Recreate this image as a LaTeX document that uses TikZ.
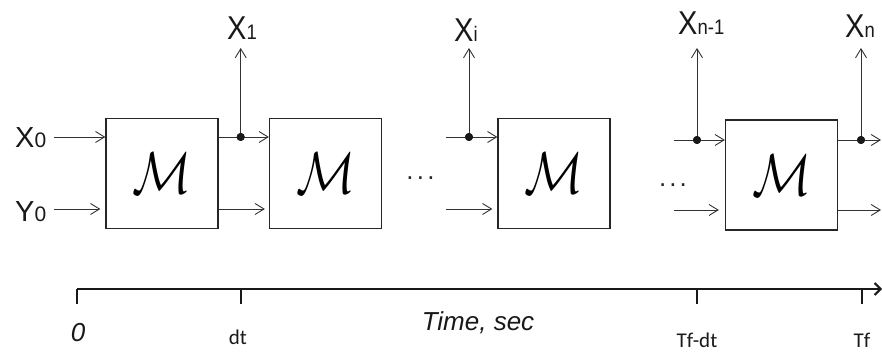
\documentclass[tikz,border=0pt]{standalone}
\usepackage{fontspec}
\setmainfont{Liberation Sans}
\newfontfamily\calibrifont{Carlito}
\usetikzlibrary{arrows.meta}
\tikzset{
  blk/.style={draw=black!85,line width=1.3pt,minimum width=112pt,minimum height=110pt,inner sep=0pt},
  arr/.style={draw=black!80,line width=0.9pt,-{Straight Barb[length=9pt,width=11pt,line width=0.9pt]}},
  jdot/.style={circle,fill=black!90,inner sep=0pt,minimum size=8pt},
  xlab/.style={font=\fontsize{29}{29}\selectfont,inner sep=0pt,anchor=base west,text=black!90},
  toplab/.style={inner sep=0pt,anchor=base west,text=black!90},
  ticklab/.style={font=\calibrifont\fontsize{21}{21}\selectfont,inner sep=0pt,text=black!90},
  axislab/.style={font=\itshape\fontsize{26}{26}\selectfont,inner sep=0pt,text=black!90},
  ell/.style={font=\fontsize{26}{26}\selectfont,inner sep=0pt,anchor=base,text=black!85},
  axis/.style={draw=black!90,line width=2.4pt},
  tick/.style={draw=black!90,line width=2pt}
}
\newcommand{\sm}[1]{{\fontsize{21}{21}\selectfont #1}}
\newcommand{\toptext}[1]{\scalebox{0.88}[1]{\fontsize{33}{33}\selectfont X\sm{#1}}}
\newcommand{\bigM}{\scalebox{4.9}[5.9]{$\mathcal{M}$}}
\begin{document}
\begin{tikzpicture}[x=1pt,y=1pt]
\useasboundingbox (0,0) rectangle (882,352);
% blocks
\node[blk] (b1) at (162,178.5) {\bigM};
\node[blk] (b2) at (325.5,178.5) {\bigM};
\node[blk] (b3) at (554,178.5) {\bigM};
\node[blk] (b4) at (781.5,177) {\bigM};
% free-end coordinates
\coordinate (x0s) at (54,215);
\coordinate (y0s) at (54,143);
\coordinate (x3s) at (446,215);
\coordinate (y3s) at (446,143);
\coordinate (x4s) at (674,212);
\coordinate (y4s) at (674,142);
\coordinate (x4e) at (881,212);
\coordinate (y4e) at (881,142);
\coordinate (top) at (0,304);
% junction dots
\node[jdot] (d1) at (240.7,215) {};
\node[jdot] (d3) at (469,215) {};
\node[jdot] (d4) at (697,212) {};
\node[jdot] (d5) at (861,212) {};
% labels
\node[xlab] (lx0) at (15,204) {X\sm{0}};
\node[xlab] (ly0) at (15,130) {Y\sm{0}};
\node[toplab] (lx1) at (227,312) {\toptext{1}};
\node[toplab] (lxi) at (454,310) {\toptext{i}};
\node[toplab] (lxn1) at (678,317) {\toptext{n-1}};
\node[toplab] (lxn) at (845,314) {\toptext{n}};
% inputs
\draw[arr] (x0s) -- (b1.west |- x0s);
\draw[arr,shorten >=5pt] (y0s) -- (b1.west |- y0s);
% block 1 -> block 2
\draw[arr] (b1.east |- x0s) -- (b2.west |- x0s);
\draw[arr,shorten >=4pt] (b1.east |- y0s) -- (b2.west |- y0s);
\draw[arr] (d1.center) -- (d1 |- top);
% block 3 inputs
\draw[arr] (x3s) -- (b3.west |- x3s);
\draw[arr,shorten >=5pt] (y3s) -- (b3.west |- y3s);
\draw[arr] (d3.center) -- (d3 |- top);
% block 4 inputs
\draw[arr] (x4s) -- (b4.west |- x4s);
\draw[arr,shorten >=6pt] (y4s) -- (b4.west |- y4s);
\draw[arr] (d4.center) -- (d4 |- top);
% block 4 outputs
\draw[arr] (b4.east |- x4s) -- (x4e);
\draw[arr] (b4.east |- y4s) -- (y4e);
\draw[arr] (d5.center) -- (d5 |- top);
% dots on top
\fill[black!90] (d1) circle (4pt) (d3) circle (4pt) (d4) circle (4pt) (d5) circle (4pt);
% ellipses
\node[ell] (e1) at (420.5,172.5) {.\hspace{3.3pt}.\hspace{3.3pt}.};
\node[ell] (e2) at (673,165.5) {.\hspace{3pt}.\hspace{3pt}.};
% time axis
\coordinate (t0) at (77,63);
\coordinate (t1) at (241,63);
\coordinate (t2) at (697,63);
\coordinate (t3) at (862,63);
\coordinate (tend) at (882,63);
\draw[axis,-{Straight Barb[length=6pt,width=12pt,line width=2pt]}] (t0) -- (tend);
\draw[tick] (t0) -- ++(0,-15);
\draw[tick] (t1) -- ++(0,-15);
\draw[tick] (t2) -- ++(0,-15);
\draw[tick] (t3) -- ++(0,-15);
\node[axislab] (l0) at (78,19) {0};
\node[ticklab] (ldt) at (238,15) {dt};
\node[axislab] (ltime) at (478,29) {Time, sec};
\node[ticklab] (ltfdt) at (697,12) {Tf-dt};
\node[ticklab] (ltf) at (862,12) {Tf};
\end{tikzpicture}
\end{document}
